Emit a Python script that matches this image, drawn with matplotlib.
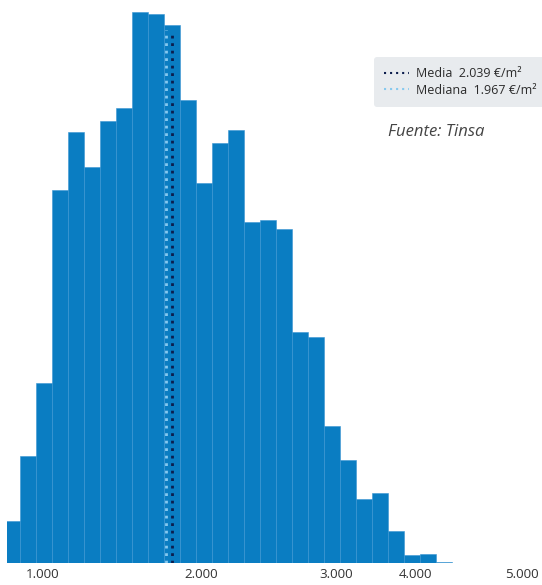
import matplotlib
matplotlib.use("Agg")
import matplotlib.pyplot as plt
from matplotlib.lines import Line2D
import numpy as np

plt.rcParams['font.family'] = ['Open Sans', 'DejaVu Sans']

# Distribution of housing prices (€/m²), equal-width bins
bin_start = 150
bin_width = 180
counts = [42, 107, 180, 373, 431, 396, 442, 455, 551, 549, 538, 463, 380,
          420, 433, 341, 343, 334, 231, 226, 137, 103, 64, 70, 32, 8, 9,
          1.3, 0.5, 0.3, 0, 0, 0.3]

media = 2039
mediana = 1967

tick_labels = ["1.000", "2.000", "3.000", "4.000", "5.000"]
tick_pos = [583, 2370, 3885, 4782, 5978]

BAR = "#0a7dc2"
EDGE = "#3a95d2"
DARK = "#0c1d4d"
LIGHT = "#86c9ef"

edges = bin_start + bin_width * np.arange(len(counts) + 1)

fig = plt.figure(figsize=(5.42, 5.85), dpi=100)
ax = fig.add_axes([7.3 / 542, 21.7 / 585, (542 - 7.3) / 542, 563.3 / 585])

ax.bar(edges[:-1], counts, width=np.diff(edges), align="edge",
       color=BAR, edgecolor=EDGE, linewidth=0.4)

line_top = 0.946
ax.axvline(mediana, ymin=0, ymax=line_top, color=LIGHT, lw=2.0,
           linestyle=(0, (1, 1.7)), dash_capstyle="butt")
ax.axvline(media, ymin=0, ymax=line_top - 0.005, color=DARK, lw=2.0,
           linestyle=(0, (1, 1.7)), dash_capstyle="butt")

ax.set_xlim(187, 6203)
ax.set_ylim(0, 563.3)
for s in ax.spines.values():
    s.set_visible(False)
ax.set_yticks([])
ax.set_xticks(tick_pos)
ax.set_xticklabels(tick_labels)
ax.tick_params(axis="x", length=0, pad=3.5, labelsize=9.6, labelcolor="#333333")

handles = [
    Line2D([], [], color=DARK, lw=1.5, linestyle=(0, (1, 1.9)), dash_capstyle="butt"),
    Line2D([], [], color=LIGHT, lw=1.5, linestyle=(0, (1, 1.9)), dash_capstyle="butt"),
]
labels = [f"Media  {media:,.0f} €/m²".replace(",", "."),
          f"Mediana  {mediana:,.0f} €/m²".replace(",", ".")]
leg = fig.legend(handles, labels, loc="upper left",
                 bbox_to_anchor=(374 / 542, 1 - 57 / 585),
                 bbox_transform=fig.transFigure, borderaxespad=0,
                 frameon=True, fancybox=True, facecolor="#e8ebee",
                 edgecolor="none", framealpha=1, fontsize=9.0,
                 handlelength=2.0, handletextpad=0.6, labelspacing=0.3,
                 borderpad=0.8, labelcolor="#2b2b2b")

fig.text(388 / 542, 1 - 136 / 585, "Fuente: Tinsa", style="italic",
         fontsize=12, color="#444444", va="baseline", ha="left")

fig.savefig("out.png", dpi=100)
